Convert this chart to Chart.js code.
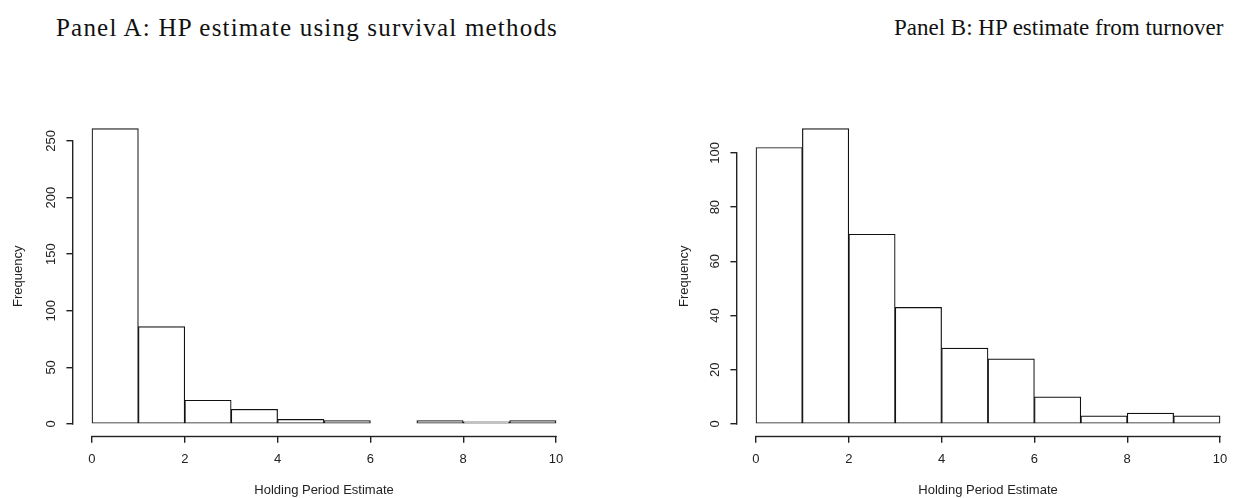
<!DOCTYPE html>
<html>
<head>
<meta charset="utf-8">
<script src="https://cdn.jsdelivr.net/npm/chart.js@4.4.1/dist/chart.umd.min.js"></script>
<style>
    html, body { margin: 0; padding: 0; background: #fff; }
    body { width: 1234px; height: 498px; position: relative; overflow: hidden; }
    canvas { position: absolute; top: 0; }
    #chartA { left: 0; }
    #chartB { left: 664px; }
    .panel-title {
        position: absolute;
        top: 14px;
        font-family: "Liberation Serif", "Times New Roman", serif;
        font-size: 23px;
        line-height: 28px;
        color: #111;
        white-space: nowrap;
    }
</style>
</head>
<body>
<div class="panel-title" style="left: 56px; font-size: 25px; letter-spacing: 1.2px;">Panel A: HP estimate using survival methods</div>
<div class="panel-title" style="left: 894px;">Panel B: HP estimate from turnover</div>
<canvas id="chartA" width="640" height="498"></canvas>
<canvas id="chartB" width="640" height="498"></canvas>
<script>
// bin edges shared by both histograms
const binEdges = [0, 1, 2, 3, 4, 5, 6, 7, 8, 9, 10];
const xTicks = [0, 2, 4, 6, 8, 10];

// Panel A: survival methods
const countsA = [261, 86, 21, 13, 4, 3, 0, 3, 2, 3];
const yTicksA = [0, 50, 100, 150, 200, 250];

// Panel B: turnover
const countsB = [102, 109, 70, 43, 28, 24, 10, 3, 4, 3];
const yTicksB = [0, 20, 40, 60, 80, 100];

const AXIS_COLOR = '#222';
const LINE_W = 1.4;
const LABEL_FONT = { family: '"Liberation Sans", Arial, sans-serif', size: 13 };

// R-style axes: lines only span the tick range, y labels rotated
const rAxes = {
    id: 'rAxes',
    afterDraw(chart, args, opts) {
        const { ctx, chartArea, scales: { x, y } } = chart;
        const yt = opts.yTicks;
        ctx.save();
        ctx.setLineDash([]);
        ctx.fillStyle = AXIS_COLOR;
        // x axis line
        const x0 = x.getPixelForValue(xTicks[0]);
        const x1 = x.getPixelForValue(xTicks[xTicks.length - 1]);
        ctx.fillRect(x0 - LINE_W / 2, chartArea.bottom, x1 - x0 + LINE_W, LINE_W);
        // y axis line
        const y0 = y.getPixelForValue(yt[0]);
        const y1 = y.getPixelForValue(yt[yt.length - 1]);
        ctx.fillRect(chartArea.left - LINE_W, y1 - LINE_W / 2, LINE_W, y0 - y1 + LINE_W);

        ctx.font = `${LABEL_FONT.size}px ${LABEL_FONT.family}`;
        ctx.textAlign = 'center';
        ctx.textBaseline = 'middle';
        yt.forEach(v => {
            ctx.save();
            ctx.translate(chartArea.left - 23, y.getPixelForValue(v));
            ctx.rotate(-Math.PI / 2);
            ctx.fillText(String(v), 0, 1);
            ctx.restore();
        });
        ctx.restore();
    }
};

function makeHist(id, counts, yTicks, yTitlePad) {
    const ymax = Math.max(...counts);
    const xmin = binEdges[0], xmax = binEdges[binEdges.length - 1];
    const xpad = (xmax - xmin) * 0.04;
    const data = counts.map((c, i) => ({ x: (binEdges[i] + binEdges[i + 1]) / 2, y: c }));

    return new Chart(document.getElementById(id), {
        type: 'bar',
        data: {
            datasets: [{
                data,
                backgroundColor: '#fff',
                borderColor: '#111',
                borderWidth: 1.2,
                borderSkipped: false,
                barPercentage: 1,
                categoryPercentage: 1
            }]
        },
        options: {
            responsive: false,
            animation: false,
            devicePixelRatio: 1,
            layout: { padding: { top: 116.7, right: 65.4, bottom: 0, left: 0 } },
            scales: {
                x: {
                    type: 'linear',
                    offset: false,
                    min: xmin - xpad,
                    max: xmax + xpad,
                    afterBuildTicks: s => { s.ticks = xTicks.map(v => ({ value: v })); },
                    afterFit: s => { s.height = 62.2; },
                    grid: { offset: false, drawOnChartArea: false, drawTicks: true, tickLength: 7, color: AXIS_COLOR, lineWidth: LINE_W },
                    border: { display: false },
                    ticks: { color: AXIS_COLOR, font: LABEL_FONT, padding: 9, maxRotation: 0, autoSkip: false },
                    title: {
                        display: true,
                        text: 'Holding Period Estimate',
                        color: AXIS_COLOR,
                        font: LABEL_FONT,
                        padding: { top: 0, bottom: 0 }
                    }
                },
                y: {
                    min: -ymax * 0.04,
                    max: ymax * 1.04,
                    afterBuildTicks: s => { s.ticks = yTicks.map(v => ({ value: v })); },
                    afterFit: s => { s.width = 73.4; },
                    grid: { drawOnChartArea: false, drawTicks: true, tickLength: 7, color: AXIS_COLOR, lineWidth: LINE_W },
                    border: { display: false },
                    ticks: { display: false },
                    title: {
                        display: true,
                        text: 'Frequency',
                        color: AXIS_COLOR,
                        font: LABEL_FONT,
                        padding: { top: yTitlePad, bottom: 0 }
                    }
                }
            },
            plugins: {
                legend: { display: false },
                tooltip: { enabled: false },
                rAxes: { yTicks }
            }
        },
        plugins: [rAxes]
    });
}

makeHist('chartA', countsA, yTicksA, 11);
makeHist('chartB', countsB, yTicksB, 13);
</script>
</body>
</html>
